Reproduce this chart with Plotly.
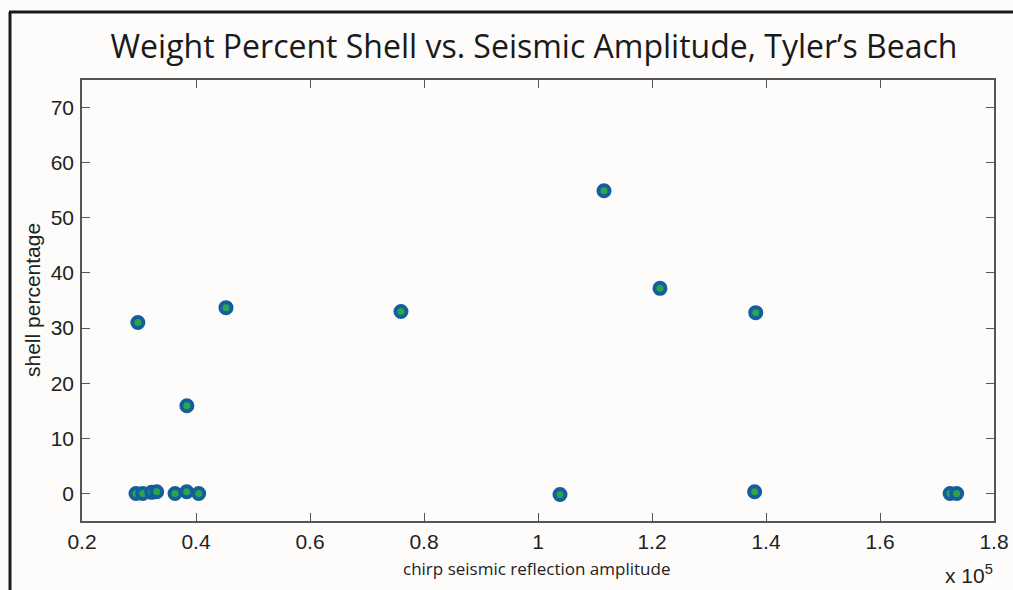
import plotly.graph_objects as go

# Chirp seismic reflection amplitude (in units of 1e5) and shell weight percent
amplitude = [0.2947, 0.3065, 0.3223, 0.331, 0.3632, 0.3837, 0.4047,
             0.298, 0.384, 0.4526, 0.7596, 1.0386, 1.1158, 1.214,
             1.382, 1.38, 1.723, 1.7345]
shell_pct = [0, 0, 0.2, 0.3, 0, 0.3, 0,
             31.0, 15.9, 33.7, 33.0, -0.2, 54.9, 37.2,
             32.8, 0.3, 0, 0]

x_ticks = [0.2, 0.4, 0.6, 0.8, 1.0, 1.2, 1.4, 1.6, 1.8]
x_tick_text = ["0.2", "0.4", "0.6", "0.8", "1", "1.2", "1.4", "1.6", "1.8"]
y_ticks = [0, 10, 20, 30, 40, 50, 60, 70]

W, H = 1013, 590
L, R, T, B = 82, 19, 80, 69
pw, ph = W - L - R, H - T - B


def px_x(p):
    return (p - L) / pw


def px_y(p):
    return 1 - (p - T) / ph


fig = go.Figure()
fig.add_trace(go.Scatter(
    x=amplitude, y=shell_pct, mode="markers",
    marker=dict(size=11, color="#2ea44a",
                line=dict(color="#135f9e", width=4)),
    showlegend=False, hoverinfo="x+y",
))

axis_common = dict(
    showgrid=False, zeroline=False, showline=True, mirror="ticks",
    linecolor="#555555", linewidth=1.5, ticks="inside", ticklen=8,
    tickcolor="#555555", tickwidth=1.3, automargin=False,
    tickfont=dict(family="Liberation Sans, Arial", size=21, color="#222222"),
)

fig.update_layout(
    width=W, height=H,
    margin=dict(l=L, r=R, t=T, b=B, autoexpand=False),
    paper_bgcolor="#fdfcfb", plot_bgcolor="#fdfcfb",
    xaxis=dict(range=[0.2, 1.8], tickvals=x_ticks, ticktext=x_tick_text,
               ticklabelstandoff=1, **axis_common),
    yaxis=dict(range=[-5, 75], tickvals=y_ticks, ticklabelstandoff=2,
               **axis_common),
    title=dict(text="Weight Percent Shell vs. Seismic Amplitude, Tyler’s Beach",
               x=534 / W, xanchor="center", y=1 - 47 / H, yanchor="middle",
               font=dict(family="Open Sans, Lato", size=32, color="#1a1a1a")),
)

# axis titles and exponent label
fig.add_annotation(text="shell percentage", xref="paper", yref="paper",
                   x=px_x(32), y=px_y(300), textangle=-90, showarrow=False,
                   xanchor="center", yanchor="middle",
                   font=dict(family="Liberation Sans, Arial", size=21, color="#222222"))
fig.add_annotation(text="chirp seismic reflection amplitude", xref="paper", yref="paper",
                   x=px_x(536), y=px_y(568), showarrow=False,
                   xanchor="center", yanchor="middle",
                   font=dict(family="Open Sans, Lato", size=17, color="#222222"))
fig.add_annotation(text="x 10<sup>5</sup>", xref="paper", yref="paper",
                   x=px_x(969), y=px_y(574), showarrow=False,
                   xanchor="center", yanchor="middle",
                   font=dict(family="Liberation Sans, Arial", size=21, color="#222222"))

# outer frame drawn around the figure panel
fig.add_shape(type="line", xref="paper", yref="paper",
              x0=px_x(10), x1=px_x(10), y0=px_y(12), y1=px_y(600),
              line=dict(color="#1a1a1a", width=3))
fig.add_shape(type="line", xref="paper", yref="paper",
              x0=px_x(9), x1=px_x(1020), y0=px_y(12), y1=px_y(12),
              line=dict(color="#1a1a1a", width=3))

fig.write_html("out.html")
